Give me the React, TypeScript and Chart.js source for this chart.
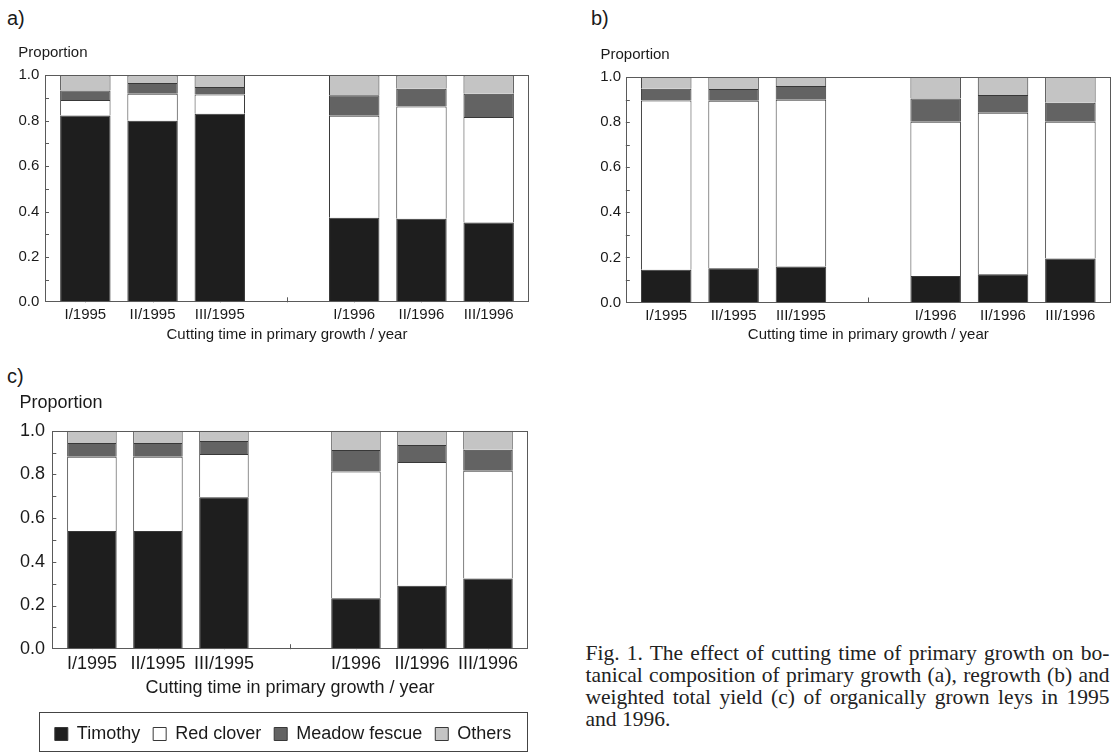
import React, { useEffect, useRef } from 'react';
import { Chart, registerables } from 'chart.js';

Chart.register(...registerables);

// ---------- data ----------
const CATEGORIES = ['I/1995', 'II/1995', 'III/1995', '', 'I/1996', 'II/1996', 'III/1996'];
const SPECIES = ['Timothy', 'Red clover', 'Meadow fescue', 'Others'];
const Y_TICKS = [0, 0.2, 0.4, 0.6, 0.8, 1.0];
const Y_TICK_MARKS = [0.1, 0.2, 0.3, 0.4, 0.5, 0.6, 0.7, 0.8, 0.9];
const Y_TITLE = 'Proportion';
const X_TITLE = 'Cutting time in primary growth / year';

// a) primary growth
const A_TIMOTHY = [0.823, 0.8, 0.831, null, 0.373, 0.368, 0.351];
const A_RED_CLOVER = [0.068, 0.119, 0.084, null, 0.449, 0.495, 0.465];
const A_MEADOW_FESCUE = [0.042, 0.047, 0.034, null, 0.09, 0.078, 0.103];
const A_OTHERS = [0.067, 0.034, 0.051, null, 0.088, 0.059, 0.081];

// b) regrowth
const B_TIMOTHY = [0.145, 0.152, 0.16, null, 0.117, 0.125, 0.195];
const B_RED_CLOVER = [0.751, 0.743, 0.739, null, 0.685, 0.717, 0.607];
const B_MEADOW_FESCUE = [0.052, 0.052, 0.061, null, 0.103, 0.078, 0.084];
const B_OTHERS = [0.052, 0.053, 0.04, null, 0.095, 0.08, 0.114];

// c) weighted total yield
const C_TIMOTHY = [0.541, 0.541, 0.695, null, 0.233, 0.29, 0.323];
const C_RED_CLOVER = [0.34, 0.34, 0.198, null, 0.58, 0.567, 0.494];
const C_MEADOW_FESCUE = [0.063, 0.063, 0.06, null, 0.099, 0.078, 0.096];
const C_OTHERS = [0.056, 0.056, 0.047, null, 0.088, 0.065, 0.087];

const CAPTION_LINES = [
  'Fig. 1. The effect of cutting time of primary growth on bo-',
  'tanical composition of primary growth (a), regrowth (b) and',
  'weighted total yield (c) of organically grown leys in 1995',
  'and 1996.',
];

// ---------- styles ----------
const COLORS = ['#1e1e1e', '#ffffff', '#636363', '#c4c4c4'];
const BAR_BORDER = '#383838';
const FRAME = '#5a5a5a';
const TEXT = '#1a1a1a';
const FAMILY = "'Liberation Sans', Arial, Helvetica, sans-serif";

type Panel = {
  series: (number | null)[][];
  font: number;
  padL: number;
  padR: number;
  padB: number;
  yW: number;
  yTickPad: number;
  titlePadTop: number;
  titlePadBottom: number;
  xTickPad: number;
  xH: number;
  xTitlePadBottom: number;
  rightW: number;
  legend: boolean;
};

const framePlugin = {
  id: 'frameTicks',
  beforeDatasetsDraw(chart: any) {
    const { ctx, chartArea, scales } = chart;
    const { left, bottom } = chartArea;
    ctx.save();
    ctx.strokeStyle = FRAME;
    ctx.lineWidth = 1;
    ctx.beginPath();
    Y_TICK_MARKS.forEach((v) => {
      const py = Math.round(scales.y.getPixelForValue(v)) + 0.5;
      ctx.moveTo(left, py);
      ctx.lineTo(left + 4, py);
    });
    CATEGORIES.forEach((_, i) => {
      const px = Math.round(scales.x.getPixelForValue(i)) + 0.5;
      ctx.moveTo(px, bottom);
      ctx.lineTo(px, bottom - 5);
    });
    ctx.stroke();
    ctx.restore();
  },
  afterDatasetsDraw(chart: any) {
    const { ctx, chartArea } = chart;
    const { left, top, right, bottom } = chartArea;
    ctx.save();
    ctx.strokeStyle = FRAME;
    ctx.lineWidth = 1;
    const l = Math.round(left) + 0.5;
    const t = Math.round(top) + 0.5;
    const r = Math.round(right) - 0.5;
    const b = Math.round(bottom) - 0.5;
    ctx.strokeRect(l, t, r - l, b - t);
    ctx.restore();
  },
};

function buildConfig(p: Panel): any {
  const font = { size: p.font, family: FAMILY, weight: 'normal' as const };
  const scales: any = {
    x: {
      type: 'linear',
      min: -0.6,
      max: 6.6,
      offset: false,
      stacked: true,
      afterBuildTicks: (s: any) => {
        s.ticks = CATEGORIES.map((_, i) => ({ value: i }));
      },
      afterFit: (s: any) => {
        s.height = p.xH;
      },
      grid: { display: false, drawTicks: false, offset: false },
      border: { display: false },
      ticks: {
        padding: p.xTickPad,
        font,
        color: TEXT,
        autoSkip: false,
        maxRotation: 0,
        callback: (v: any) => CATEGORIES[Number(v)] ?? '',
      },
      title: {
        display: true,
        text: X_TITLE,
        font,
        color: TEXT,
        padding: { top: 0, bottom: p.xTitlePadBottom },
      },
    },
    y: {
      type: 'linear',
      min: 0,
      max: 1,
      stacked: true,
      afterBuildTicks: (s: any) => {
        s.ticks = Y_TICKS.map((v) => ({ value: v }));
      },
      afterFit: (s: any) => {
        s.width = p.yW;
      },
      grid: { display: false, drawTicks: false },
      border: { display: false },
      ticks: {
        padding: p.yTickPad,
        font,
        color: TEXT,
        callback: (v: any) => Number(v).toFixed(1),
      },
    },
  };
  if (p.rightW > 0) {
    scales.yRight = {
      type: 'linear',
      position: 'right',
      display: true,
      grid: { display: false, drawTicks: false },
      border: { display: false },
      ticks: { display: false },
      afterFit: (s: any) => {
        s.width = p.rightW;
      },
    };
  }
  return {
    type: 'bar',
    data: {
      datasets: SPECIES.map((name, si) => ({
        label: name,
        data: CATEGORIES.map((_, i) => ({ x: i, y: p.series[si][i] })),
        backgroundColor: COLORS[si],
        borderColor: BAR_BORDER,
        borderWidth: 1,
        categoryPercentage: 1,
        barPercentage: 0.75,
      })),
    },
    options: {
      responsive: false,
      animation: false,
      events: [],
      layout: { padding: { left: p.padL, right: p.padR, top: 0, bottom: p.padB } },
      plugins: {
        title: {
          display: true,
          text: Y_TITLE,
          align: 'start',
          font,
          color: TEXT,
          padding: { top: p.titlePadTop, bottom: p.titlePadBottom },
        },
        legend: p.legend
          ? {
              display: true,
              position: 'bottom',
              align: 'center',
              labels: {
                boxWidth: 13,
                boxHeight: 13,
                padding: 13,
                font: { size: 18, family: FAMILY },
                color: TEXT,
              },
            }
          : { display: false },
        tooltip: { enabled: false },
      },
      scales,
    },
    plugins: [framePlugin],
  };
}

const PANEL_A: Panel = {
  series: [A_TIMOTHY, A_RED_CLOVER, A_MEADOW_FESCUE, A_OTHERS],
  font: 15, padL: 18.3, padR: 16, padB: 0, yW: 26.7, yTickPad: 5.7,
  titlePadTop: 14, titlePadBottom: 13.3, xTickPad: 3.4, xH: 47.7, xTitlePadBottom: 6.3,
  rightW: 0, legend: false,
};
const PANEL_B: Panel = {
  series: [B_TIMOTHY, B_RED_CLOVER, B_MEADOW_FESCUE, B_OTHERS],
  font: 15, padL: 20.5, padR: 4.2, padB: 0, yW: 25.3, yTickPad: 4.8,
  titlePadTop: 15.5, titlePadBottom: 13.5, xTickPad: 4.2, xH: 47.5, xTitlePadBottom: 6,
  rightW: 0, legend: false,
};
const PANEL_C: Panel = {
  series: [C_TIMOTHY, C_RED_CLOVER, C_MEADOW_FESCUE, C_OTHERS],
  font: 18, padL: 19.5, padR: 13.4, padB: 0, yW: 32.8, yTickPad: 7.4,
  titlePadTop: 12.6, titlePadBottom: 16.5, xTickPad: 4.4, xH: 62.8, xTitlePadBottom: 13.3,
  rightW: 19, legend: true,
};

function ChartCanvas({ panel, left, top, width, height }: { panel: Panel; left: number; top: number; width: number; height: number }) {
  const ref = useRef<HTMLCanvasElement | null>(null);
  useEffect(() => {
    if (!ref.current) return;
    const chart = new Chart(ref.current, buildConfig(panel));
    return () => chart.destroy();
  }, [panel]);
  return (
    <canvas
      ref={ref}
      width={width}
      height={height}
      style={{ position: 'absolute', left, top, width, height }}
    />
  );
}

const panelLabel = (text: string, left: number, top: number) => (
  <div
    style={{
      position: 'absolute',
      left,
      top,
      fontSize: 20,
      lineHeight: '20px',
      fontFamily: FAMILY,
      color: TEXT,
    }}
  >
    {text}
  </div>
);

export default function App() {
  return (
    <div
      style={{
        position: 'absolute',
        left: 0,
        top: 0,
        width: 1115,
        height: 753,
        background: '#ffffff',
        overflow: 'hidden',
      }}
    >
      {panelLabel('a)', 7, 8)}
      {panelLabel('b)', 591, 8)}
      {panelLabel('c)', 7, 366)}
      <div
        style={{
          position: 'absolute',
          left: 39,
          top: 712,
          width: 489,
          height: 40,
          border: '1px solid #444',
          boxSizing: 'border-box',
        }}
      />
      <ChartCanvas panel={PANEL_A} left={0} top={30} width={545} height={320} />
      <ChartCanvas panel={PANEL_B} left={580} top={30} width={535} height={320} />
      <ChartCanvas panel={PANEL_C} left={0} top={380} width={560} height={373} />
      <div
        style={{
          position: 'absolute',
          left: 585.5,
          top: 641.5,
          width: 524,
          fontFamily: "'Liberation Serif', 'Times New Roman', serif",
          fontSize: 21.5,
          lineHeight: '22px',
          color: '#222',
        }}
      >
        {CAPTION_LINES.map((line, i) => (
          <div
            key={i}
            style={{
              textAlign: i < CAPTION_LINES.length - 1 ? 'justify' : 'left',
              textAlignLast: i < CAPTION_LINES.length - 1 ? 'justify' : 'left',
            }}
          >
            {line}
          </div>
        ))}
      </div>
    </div>
  );
}
